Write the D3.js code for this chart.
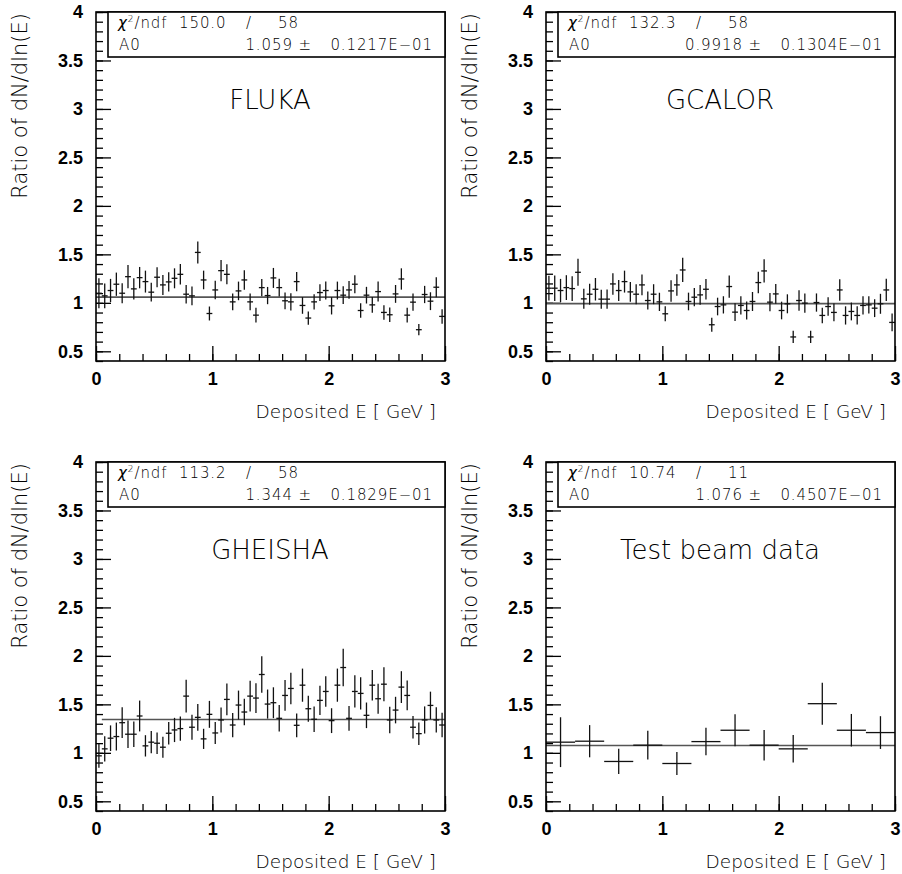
<!DOCTYPE html>
<html>
<head>
<meta charset="utf-8">
<script src="https://cdn.jsdelivr.net/npm/d3@7"></script>
<style>
  body { margin: 0; background: #fff; }
  .thin { font-family: "DejaVu Sans", sans-serif; font-weight: 200; fill: #000; }
  .stat { letter-spacing: 0.9px; }
  .tick text { font-family: "Liberation Sans", Arial, sans-serif; font-weight: bold; font-size: 18px; fill: #000; }
  .tick line { stroke: #000; stroke-width: 1.3px; }
  .bar { stroke: #111; stroke-width: 1.3px; }
</style>
</head>
<body>
<div id="chart"></div>
<script>
// ratio values and errors per bin
var flukaVal = [1.099,1.072,1.127,1.192,1.099,1.270,1.144,1.260,1.219,1.110,
  1.264,1.185,1.216,1.253,1.294,1.089,1.072,1.520,1.236,0.890,
  1.133,1.332,1.294,1.010,1.123,1.236,1.010,0.873,1.157,1.075,
  1.257,1.157,1.021,1.010,1.219,0.973,0.843,1.010,1.106,1.127,
  0.969,1.127,1.079,1.133,1.192,0.921,1.079,0.979,1.116,0.901,
  0.877,1.092,1.246,0.873,1.007,0.723,1.086,1.017,1.161,0.860];
var flukaErr = [0.154,0.127,0.120,0.120,0.103,0.120,0.110,0.110,0.113,0.096,
  0.103,0.103,0.100,0.103,0.106,0.096,0.096,0.113,0.096,0.072,
  0.096,0.110,0.103,0.086,0.096,0.100,0.086,0.075,0.089,0.089,
  0.103,0.092,0.086,0.089,0.100,0.086,0.068,0.079,0.086,0.092,
  0.089,0.092,0.092,0.092,0.092,0.075,0.086,0.082,0.103,0.075,
  0.075,0.092,0.110,0.075,0.089,0.058,0.089,0.092,0.103,0.075];

var gcalorVal = [1.151,1.151,1.127,1.157,1.147,1.315,1.041,1.089,1.140,1.038,
  1.038,1.195,1.127,1.219,1.113,1.089,1.185,1.024,1.089,1.010,
  0.887,1.123,1.185,1.339,1.014,1.058,1.082,1.140,0.774,0.962,
  0.979,1.168,0.904,0.973,0.921,1.014,1.209,1.329,1.007,1.092,
  0.921,0.990,0.648,1.024,0.997,0.648,1.003,0.870,0.962,0.901,
  1.133,0.870,0.911,0.870,0.973,0.979,0.945,0.990,1.133,0.798];
var gcalorErr = [0.128,0.132,0.120,0.128,0.128,0.139,0.103,0.108,0.116,0.098,
  0.099,0.111,0.108,0.113,0.103,0.103,0.108,0.094,0.103,0.094,
  0.077,0.111,0.111,0.125,0.091,0.094,0.103,0.106,0.072,0.091,
  0.089,0.115,0.091,0.094,0.094,0.098,0.111,0.120,0.094,0.101,
  0.091,0.098,0.063,0.106,0.099,0.063,0.094,0.080,0.096,0.091,
  0.111,0.094,0.092,0.094,0.094,0.089,0.092,0.103,0.115,0.091];

var gheishaVal = [0.969,1.041,1.151,1.168,1.311,1.192,1.192,1.380,1.072,1.110,
  1.099,1.058,1.202,1.236,1.250,1.585,1.264,1.366,1.144,1.397,
  1.205,1.339,1.551,1.287,1.493,1.421,1.585,1.565,1.808,1.503,
  1.517,1.356,1.592,1.664,1.284,1.698,1.455,1.346,1.541,1.633,
  1.332,1.698,1.880,1.356,1.633,1.613,1.387,1.698,1.558,1.708,
  1.339,1.441,1.678,1.592,1.264,1.198,1.339,1.489,1.339,1.287];
var gheishaErr = [0.123,0.130,0.132,0.144,0.159,0.142,0.132,0.159,0.110,0.115,
  0.110,0.108,0.116,0.125,0.125,0.168,0.128,0.137,0.104,0.139,
  0.113,0.128,0.164,0.125,0.149,0.137,0.159,0.154,0.188,0.150,
  0.159,0.137,0.159,0.163,0.123,0.171,0.135,0.132,0.151,0.157,
  0.128,0.171,0.193,0.128,0.166,0.166,0.132,0.157,0.154,0.176,
  0.137,0.137,0.164,0.154,0.115,0.116,0.140,0.142,0.130,0.127];

var beamVal = [1.110,1.120,0.911,1.079,0.890,1.116,1.233,1.079,1.041,1.507,1.233,1.209];
var beamErr = [0.257,0.166,0.130,0.149,0.118,0.142,0.164,0.157,0.142,0.217,0.168,0.169];

var titles = ["FLUKA", "GCALOR", "GHEISHA", "Test beam data"];
var binWidths = [0.05, 0.05, 0.05, 0.25];
var chi2 = ["150.0", "132.3", "113.2", "10.74"];
var ndf = ["58", "58", "58", "11"];
var a0 = ["1.059", "0.9918", "1.344", "1.076"];
var a0Err = ["0.1217E\u221201", "0.1304E\u221201", "0.1829E\u221201", "0.4507E\u221201"];
var fitStart = [0, 0, 0.05, 0];

var xTickLabels = [0, 1, 2, 3];
var yTickLabels = [0.5, 1, 1.5, 2, 2.5, 3, 3.5, 4];

var panels = [
  { vals: flukaVal, errs: flukaErr, dx: 0, dy: 0 },
  { vals: gcalorVal, errs: gcalorErr, dx: 450, dy: 0 },
  { vals: gheishaVal, errs: gheishaErr, dx: 0, dy: 450 },
  { vals: beamVal, errs: beamErr, dx: 450, dy: 450 }
];

var svg = d3.select("#chart").append("svg")
    .attr("width", 902)
    .attr("height", 874);

var x = d3.scaleLinear().domain([0, 3]).range([96, 445]);
var y = d3.scaleLinear().domain([0.4, 4]).range([361, 12]);

var yMinor = d3.range(4, 41).map(function(d) { return d / 10; });
var xMinor = d3.range(0, 16).map(function(d) { return d / 5; });

panels.forEach(function(p, k) {
    var g = svg.append("g").attr("transform", "translate(" + p.dx + "," + p.dy + ")");
    var w = binWidths[k];

    // minor and major ticks, inside the frame
    g.append("g").attr("transform", "translate(96,0)")
        .call(d3.axisLeft(y).tickValues(yMinor).tickSize(-7).tickFormat(""));
    g.append("g").attr("transform", "translate(96,0)")
        .call(d3.axisLeft(y).tickValues(yTickLabels).tickSize(-15).tickPadding(13).tickFormat(d3.format("")));
    g.append("g").attr("transform", "translate(0,361)")
        .call(d3.axisBottom(x).tickValues(xMinor).tickSize(-7).tickFormat(""));
    g.append("g").attr("transform", "translate(0,361)")
        .call(d3.axisBottom(x).tickValues(xTickLabels).tickSize(-15).tickPadding(11).tickFormat(d3.format("d")));
    g.selectAll(".domain").remove();

    // fit line
    g.append("line")
        .attr("x1", x(fitStart[k])).attr("x2", x(3))
        .attr("y1", y(+a0[k])).attr("y2", y(+a0[k]))
        .attr("stroke", "#555").attr("stroke-width", 1.6);

    // points with error bars
    var pts = g.selectAll(".pt")
        .data(p.vals.map(function(v, i) { return { v: v, e: p.errs[i], c: (i + 0.5) * w }; }))
        .enter().append("g").attr("class", "pt");
    pts.append("line").attr("class", "bar")
        .attr("x1", function(d) { return x(d.c); })
        .attr("x2", function(d) { return x(d.c); })
        .attr("y1", function(d) { return y(d.v - d.e); })
        .attr("y2", function(d) { return y(d.v + d.e); });
    pts.append("line").attr("class", "bar")
        .attr("x1", function(d) { return x(d.c - w / 2); })
        .attr("x2", function(d) { return x(d.c + w / 2); })
        .attr("y1", function(d) { return y(d.v); })
        .attr("y2", function(d) { return y(d.v); });

    // frame
    g.append("rect")
        .attr("x", 96).attr("y", 12).attr("width", 349).attr("height", 349)
        .attr("fill", "none").attr("stroke", "#000").attr("stroke-width", 1.6);

    // stats box
    g.append("rect")
        .attr("x", 108).attr("y", 12).attr("width", 337).attr("height", 45)
        .attr("fill", "#fff").attr("stroke", "#000").attr("stroke-width", 1.6);
    var l1 = g.append("text").attr("class", "thin stat").attr("x", 118).attr("y", 28).attr("font-size", 15);
    l1.append("tspan").attr("font-style", "italic").text("\u03c7");
    l1.append("tspan").attr("font-size", 9).attr("dy", -6).text("2");
    l1.append("tspan").attr("dy", 6).text("/ndf");
    g.append("text").attr("class", "thin stat").attr("x", 179).attr("y", 28).attr("font-size", 15).text(chi2[k]);
    g.append("text").attr("class", "thin stat").attr("x", 246).attr("y", 28).attr("font-size", 15).text("/");
    g.append("text").attr("class", "thin stat").attr("x", 278).attr("y", 28).attr("font-size", 15).text(ndf[k]);
    g.append("text").attr("class", "thin stat").attr("x", 119).attr("y", 50).attr("font-size", 15).text("A0");
    g.append("text").attr("class", "thin stat").attr("x", 312).attr("y", 50).attr("font-size", 15)
        .attr("text-anchor", "end").text(a0[k] + " \u00b1");
    g.append("text").attr("class", "thin stat").attr("x", 433).attr("y", 50).attr("font-size", 15)
        .attr("text-anchor", "end").text(a0Err[k]);

    // title
    g.append("text").attr("class", "thin")
        .attr("x", 270).attr("y", 109)
        .attr("text-anchor", "middle").attr("font-size", 26)
        .text(titles[k]);

    // axis titles
    g.append("text").attr("class", "thin")
        .attr("x", 436).attr("y", 418)
        .attr("text-anchor", "end").attr("font-size", 18.5)
        .text("Deposited E [ GeV ]");
    g.append("text").attr("class", "thin")
        .attr("transform", "translate(27,13) rotate(-90)")
        .attr("text-anchor", "end").attr("font-size", 21)
        .text("Ratio of dN/dln(E)");
});
</script>
</body>
</html>
